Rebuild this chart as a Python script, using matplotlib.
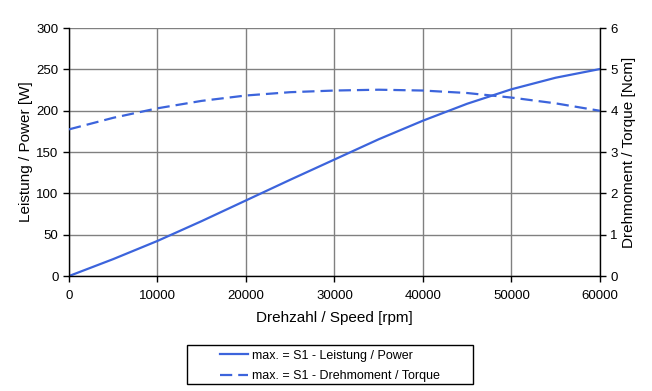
import matplotlib
matplotlib.use('Agg')
import matplotlib.pyplot as plt
from matplotlib.patches import Rectangle

plt.rcParams['font.family'] = ['Liberation Sans', 'DejaVu Sans']

# Drehzahl / Speed [rpm]
speed = [0, 5000, 10000, 15000, 20000, 25000, 30000, 35000, 40000, 45000, 50000, 55000, 60000]
# Leistung / Power [W]
power = [0, 20.5, 42.5, 66.5, 91.5, 116.5, 141, 165.5, 188, 208.5, 226, 240, 250.5]
# Drehmoment / Torque [Ncm]
torque = [3.55, 3.83, 4.06, 4.24, 4.37, 4.45, 4.49, 4.51, 4.49, 4.43, 4.32, 4.18, 4.00]

blue = '#3c64dc'

fig = plt.figure(figsize=(6.52, 3.91), dpi=100)
ax1 = fig.add_subplot(111)
ax2 = ax1.twinx()
fig.subplots_adjust(left=0.1058, right=0.920, top=0.928, bottom=0.294)

l1, = ax1.plot(speed, power, color=blue, lw=1.6, label='max. = S1 - Leistung / Power')
l2, = ax2.plot(speed, torque, color=blue, lw=1.6, dashes=(5.5, 2.7),
               label='max. = S1 - Drehmoment / Torque')

ax1.set_xlim(0, 60000)
ax1.set_ylim(0, 300)
ax2.set_ylim(0, 6)
ax1.set_xticks(range(0, 60001, 10000))
ax1.set_yticks(range(0, 301, 50))
ax2.set_yticks(range(0, 7))

ax1.grid(True, color='#808080', lw=1)
ax1.set_axisbelow(True)
for ax in (ax1, ax2):
    ax.spines['top'].set_visible(False)
    for s in ax.spines.values():
        s.set_color('black')
        s.set_linewidth(1)
    ax.tick_params(direction='out', length=4, width=1, labelsize=9.5, colors='black')
ax1.tick_params(axis='x', pad=6)
ax2.spines['left'].set_visible(False)
ax2.spines['bottom'].set_visible(False)
ax1.spines['right'].set_visible(False)

ax1.set_xlabel('Drehzahl / Speed [rpm]', fontsize=11)
ax1.set_ylabel('Leistung / Power [W]', fontsize=11)
ax2.set_ylabel('Drehmoment / Torque [Ncm]', fontsize=11)
ax1.xaxis.set_label_coords(0.5, -0.141)
ax1.yaxis.set_label_coords(-0.068, 0.5)
ax2.yaxis.set_label_coords(1.042, 0.5)

# Legende mit breitem Rahmen wie im Original
leg = fig.legend(handles=[l1, l2], loc='center', bbox_to_anchor=(0.506, 0.064),
                 fontsize=9, frameon=False,
                 handlelength=2.2, handletextpad=0.3, borderpad=0.3, labelspacing=0.7)
fig.patches.append(Rectangle((0.2868, 0.0179), 0.4387, 0.0997, transform=fig.transFigure,
                             fill=False, edgecolor='black', lw=1))

fig.savefig('out.png', dpi=100)
